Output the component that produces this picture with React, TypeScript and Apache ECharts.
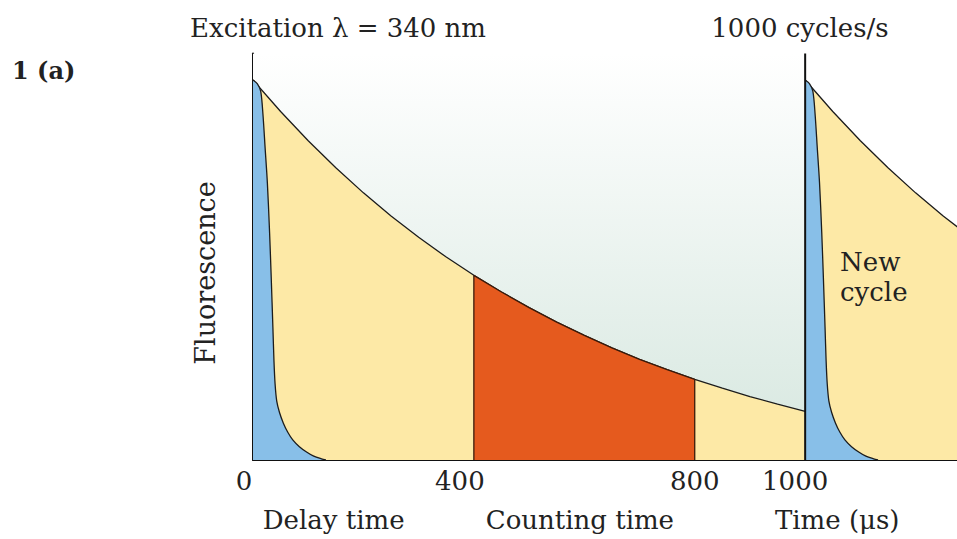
import React, { useEffect, useRef } from "react";
import * as echarts from "echarts";

// Excitation pulses repeat every 1000 µs
const PERIOD = 1000;
const X_MAX = 1275;
const Y_MAX = 107;

// Long-lived (lanthanide) emission over one cycle
const slowT = [0, 50, 100, 150, 200, 250, 300, 350, 400, 450, 500, 550, 600, 650, 700, 750, 800, 850, 900, 950, 1000];
const slowV = [100, 91.7, 84.0, 76.9, 70.3, 64.2, 58.6, 53.4, 48.6, 44.2, 40.1, 36.3, 32.8, 29.5, 26.5, 23.8, 21.2, 18.9, 16.7, 14.7, 12.8];

// Short-lived background fluorescence
const fastT = [0, 8, 14, 18, 22, 26, 30, 33, 36, 38, 40, 43, 48, 55, 63, 72, 84, 97, 110, 124, 132];
const fastV = [100, 99, 97, 91, 82, 73, 60, 48, 35, 26, 20, 15.5, 12.5, 9.7, 7.3, 5.3, 3.5, 2.1, 1.0, 0.3, 0];

// Gated counting window
const countStart = 400;
const countEnd = 800;

const tickValues = [0, 400, 800, 1000];
const phaseLabels = ["Delay time", "Counting time", "Time (μs)"];
const phasePositions = [146, 592, 1058];

const FONT = '"DejaVu Serif", serif';
const INK = "#222222";
const OUTLINE = "#1c1c1c";
const YELLOW = "#fde9a6";
const BLUE = "#88bfe8";
const RED = "#e55a1e";

// tick labels sit slightly left of their ticks in this layout
const tickLabelStyle = (padRight: number) => ({
  fontFamily: FONT,
  fontSize: 26,
  color: INK,
  padding: [0, padRight, 0, 0],
});

const pairs = (t: number[], v: number[], shift = 0, upTo = Infinity) =>
  t.filter((x) => x + shift <= upTo).map((x, i) => [x + shift, v[i]]);

export default function App() {
  const ref = useRef<HTMLDivElement>(null);

  useEffect(() => {
    if (!ref.current) return;
    const chart = echarts.init(ref.current, undefined, { renderer: "svg" });

    const slow1 = pairs(slowT, slowV);
    const slow2 = pairs(slowT, slowV, PERIOD, 1300);
    const fast1 = pairs(fastT, fastV);
    const fast2 = pairs(fastT, fastV, PERIOD);
    const windowPts = [
      [countStart, 0],
      ...slow1.filter((p) => p[0] >= countStart && p[0] <= countEnd),
      [countEnd, 0],
    ];

    const areaLine = (name: string, data: number[][], fill: string, z: number, smooth: number | boolean = false) => ({
      name,
      type: "line",
      data,
      symbol: "none",
      smooth,
      z,
      lineStyle: { color: OUTLINE, width: 1.3 },
      areaStyle: { color: fill, opacity: 1, origin: "start" },
    });

    chart.setOption({
      animation: false,
      backgroundColor: "#ffffff",
      grid: { left: 253, right: 0, top: 460 - Y_MAX * 3.8, bottom: 79 },
      xAxis: [
        {
          type: "value",
          min: 0,
          max: X_MAX,
          position: "bottom",
          axisLine: { show: true, onZero: false, lineStyle: { color: "#111", width: 2 } },
          axisTick: { show: false },
          splitLine: { show: false },
          axisLabel: {
            customValues: tickValues,
            formatter: (v: number) => `{t${v}|${v}}`,
            margin: 8,
            color: INK,
            fontFamily: FONT,
            fontSize: 26,
            rich: {
              t0: tickLabelStyle(18),
              t400: tickLabelStyle(28),
              t800: tickLabelStyle(0),
              t1000: tickLabelStyle(20),
            },
          },
        },
        {
          type: "value",
          min: 0,
          max: X_MAX,
          position: "bottom",
          axisLine: { show: false },
          axisTick: { show: false },
          splitLine: { show: false },
          axisLabel: {
            customValues: phasePositions,
            formatter: (v: number) => phaseLabels[phasePositions.indexOf(v)] ?? "",
            margin: 47,
            color: INK,
            fontFamily: FONT,
            fontSize: 26,
          },
        },
      ],
      yAxis: {
        type: "value",
        min: 0,
        max: Y_MAX,
        axisLine: { show: true, lineStyle: { color: "#111", width: 2 } },
        axisTick: { show: false },
        axisLabel: { show: false },
        splitLine: { show: false },
      },
      series: [
        {
          name: "decay envelope",
          type: "line",
          data: slow1,
          symbol: "none",
          z: 1,
          lineStyle: { width: 0 },
          areaStyle: {
            origin: "end",
            opacity: 1,
            color: new echarts.graphic.LinearGradient(0, 0, 0, 1, [
              { offset: 0, color: "#ffffff" },
              { offset: 1, color: "#dbeae3" },
            ]),
          },
        },
        areaLine("long-lived emission", slow1, YELLOW, 2),
        {
          name: "counting window",
          type: "line",
          data: windowPts,
          symbol: "none",
          z: 3,
          lineStyle: { color: "#3a1a0a", width: 1.3 },
          areaStyle: { color: RED, opacity: 1, origin: "start" },
        },
        areaLine("background", fast1, BLUE, 4, 0.3),
        areaLine("long-lived emission, next cycle", slow2, YELLOW, 2),
        areaLine("background, next cycle", fast2, BLUE, 4, 0.3),
        {
          name: "next pulse",
          type: "line",
          data: [
            [PERIOD, 0],
            [PERIOD, Y_MAX],
          ],
          symbol: "none",
          z: 6,
          lineStyle: { color: "#111", width: 2 },
        },
      ],
      graphic: [
        {
          type: "text",
          x: 12,
          y: 70,
          style: { text: "1 (a)", fill: INK, font: `bold 24px ${FONT}`, align: "left", verticalAlign: "middle" },
        },
        {
          type: "text",
          x: 338,
          y: 28,
          style: { text: "Excitation λ = 340 nm", fill: INK, font: `26px ${FONT}`, align: "center", verticalAlign: "middle" },
        },
        {
          type: "text",
          x: 800,
          y: 28,
          style: { text: "1000 cycles/s", fill: INK, font: `26px ${FONT}`, align: "center", verticalAlign: "middle" },
        },
        {
          type: "text",
          x: 205,
          y: 273,
          rotation: Math.PI / 2,
          style: { text: "Fluorescence", fill: INK, font: `27px ${FONT}`, align: "center", verticalAlign: "middle" },
        },
        {
          type: "text",
          x: 840,
          y: 277,
          z: 10,
          style: {
            text: "New\ncycle",
            fill: INK,
            font: `26px ${FONT}`,
            lineHeight: 30,
            align: "left",
            verticalAlign: "middle",
          },
        },
      ],
    });

    return () => chart.dispose();
  }, []);

  return (
    <div
      ref={ref}
      style={{ position: "absolute", left: 0, top: 0, width: 957, height: 539 }}
    />
  );
}
